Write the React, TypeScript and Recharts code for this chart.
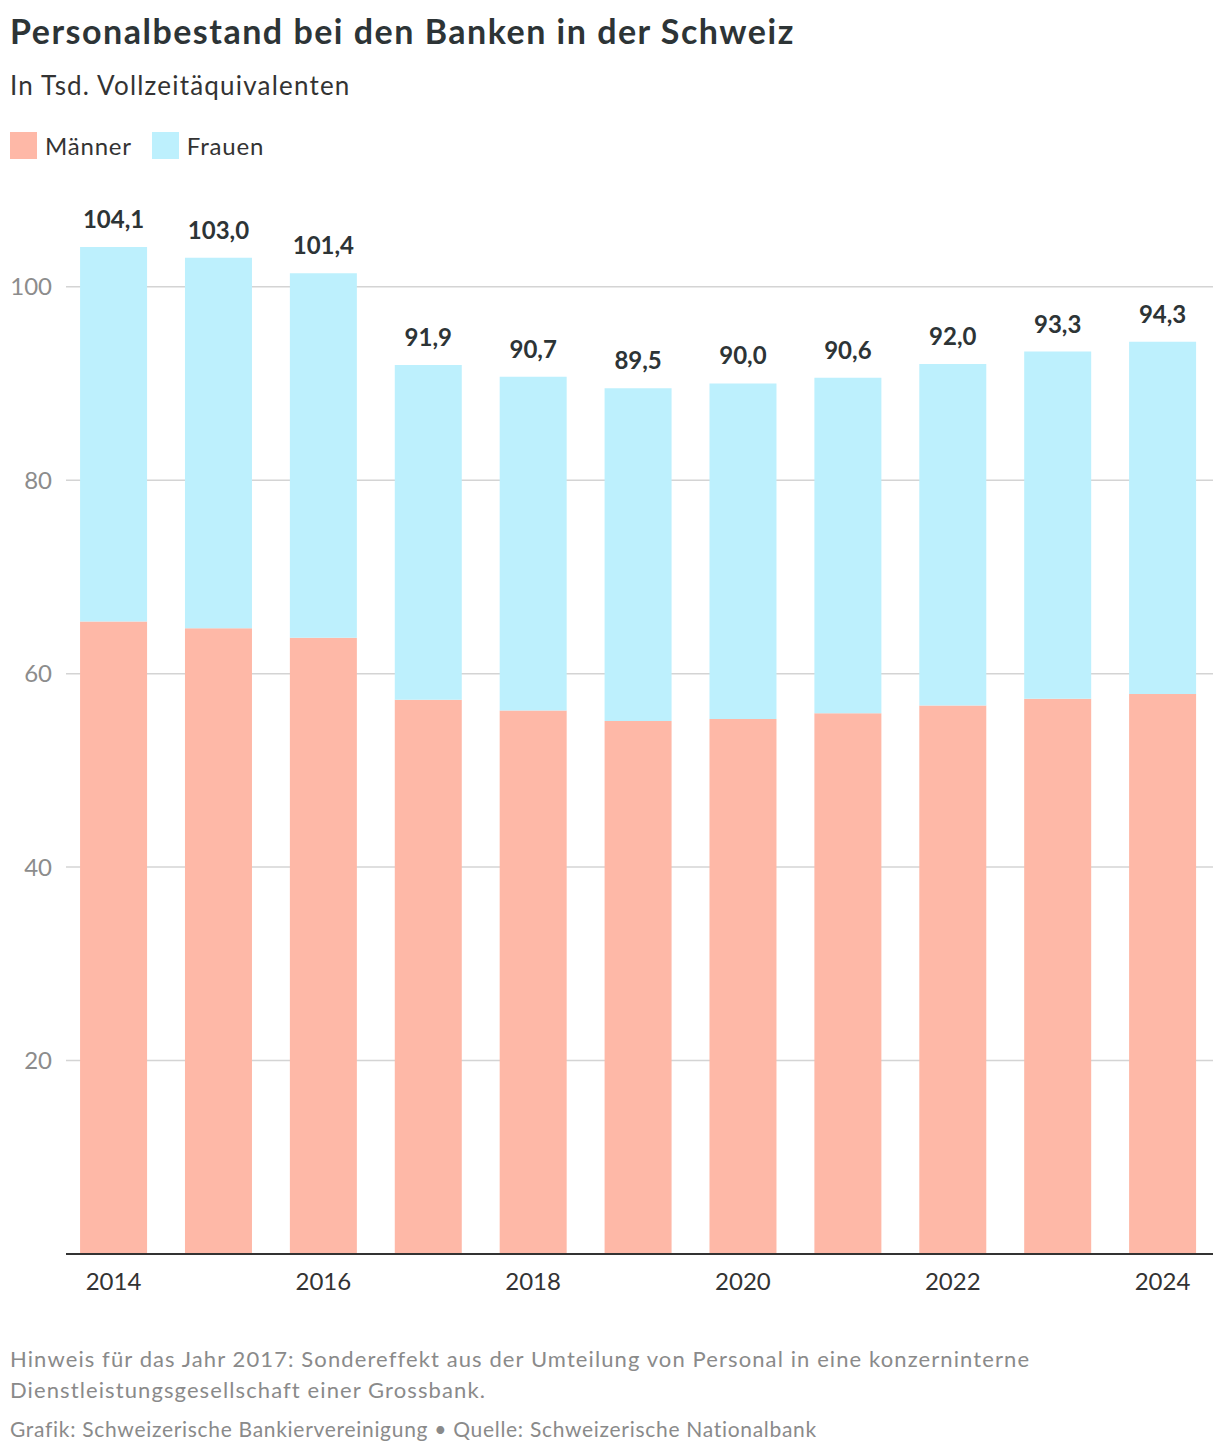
import React from 'react';
import { BarChart, Bar, XAxis, YAxis, CartesianGrid, LabelList } from 'recharts';

const years = [2014, 2015, 2016, 2017, 2018, 2019, 2020, 2021, 2022, 2023, 2024];
const maenner = [65.4, 64.7, 63.7, 57.3, 56.2, 55.1, 55.3, 55.9, 56.7, 57.4, 57.9];
const frauen = [38.7, 38.3, 37.7, 34.6, 34.5, 34.4, 34.7, 34.7, 35.3, 35.9, 36.4];
const totals = ['104,1', '103,0', '101,4', '91,9', '90,7', '89,5', '90,0', '90,6', '92,0', '93,3', '94,3'];
const yTicks = [20, 40, 60, 80, 100];
const xTicks = [2014, 2016, 2018, 2020, 2022, 2024];
const Y_MAX = 110;

const data = years.map((year, i) => ({ year, maenner: maenner[i], frauen: frauen[i], total: totals[i] }));

const FONT = 'Lato, "Noto Sans", sans-serif';
const MEN = '#feb8a7';
const WOMEN = '#bdf0fd';

const TotalLabel = (props: any) => {
  const { x, y, width, index } = props;
  return (
    <text x={x + width / 2} y={y - 19} textAnchor="middle" fontSize={24} fontWeight={700} fill="#2d3436" fontFamily={FONT}>
      {totals[index]}
    </text>
  );
};

// only grid lines at the labelled ticks (no line at the top edge)
const gridLines = ({ offset }: any) =>
  yTicks.map((t) => offset.top + offset.height * (1 - t / Y_MAX));

const App: React.FC = () => {
  return (
    <div style={{ position: 'absolute', left: 0, top: 0, width: 1220, height: 1456, background: '#fff', fontFamily: FONT, color: '#2d3436' }}>
      <div style={{ position: 'absolute', left: 10, top: 10, fontSize: 34, fontWeight: 700, letterSpacing: 1.5, whiteSpace: 'nowrap' }}>
        Personalbestand bei den Banken in der Schweiz
      </div>
      <div style={{ position: 'absolute', left: 10, top: 69, fontSize: 26, letterSpacing: 1.2, color: '#333', whiteSpace: 'nowrap' }}>
        In Tsd. Vollzeitäquivalenten
      </div>
      <div style={{ position: 'absolute', left: 10, top: 131, display: 'flex', alignItems: 'center', fontSize: 24, letterSpacing: 0.8, color: '#333' }}>
        <span style={{ width: 27, height: 27, background: MEN, display: 'inline-block', marginRight: 8 }} />
        <span style={{ marginRight: 20 }}>Männer</span>
        <span style={{ width: 27, height: 27, background: WOMEN, display: 'inline-block', marginRight: 8 }} />
        <span>Frauen</span>
      </div>

      <div style={{ position: 'absolute', left: 0, top: 0 }}>
        <BarChart width={1220} height={1320} data={data} margin={{ top: 190, right: 7, left: 0, bottom: 26 }}>
          <CartesianGrid vertical={false} stroke="#d4d4d4" strokeWidth={1.5} horizontalCoordinatesGenerator={gridLines} />
          <XAxis
            dataKey="year"
            type="number"
            domain={[2013.547, 2024.481]}
            allowDataOverflow
            ticks={xTicks}
            height={40}
            tickSize={0}
            tickMargin={19}
            axisLine={{ stroke: '#333', strokeWidth: 2 }}
            tick={{ fontSize: 24, fill: '#333', fontFamily: FONT }}
          />
          <YAxis
            domain={[0, Y_MAX]}
            ticks={yTicks}
            width={66}
            tickSize={0}
            tickMargin={14}
            axisLine={false}
            tickLine={false}
            tick={{ fontSize: 24, fill: '#8c8c8c', fontFamily: FONT }}
          />
          <Bar dataKey="maenner" stackId="a" fill={MEN} barSize={67} isAnimationActive={false} />
          <Bar dataKey="frauen" stackId="a" fill={WOMEN} barSize={67} isAnimationActive={false}>
            <LabelList dataKey="total" content={<TotalLabel />} />
          </Bar>
        </BarChart>
      </div>

      <div style={{ position: 'absolute', left: 10, top: 1343, fontSize: 22, letterSpacing: 1.1, lineHeight: '31px', color: '#8a8a8a', width: 1200, whiteSpace: 'nowrap' }}>
        Hinweis für das Jahr 2017: Sondereffekt aus der Umteilung von Personal in eine konzerninterne<br />
        Dienstleistungsgesellschaft einer Grossbank.
      </div>
      <div style={{ position: 'absolute', left: 10, top: 1416, fontSize: 21, letterSpacing: 0.7, color: '#8a8a8a', whiteSpace: 'nowrap' }}>
        Grafik: Schweizerische Bankiervereinigung • Quelle: Schweizerische Nationalbank
      </div>
    </div>
  );
};

export default App;
